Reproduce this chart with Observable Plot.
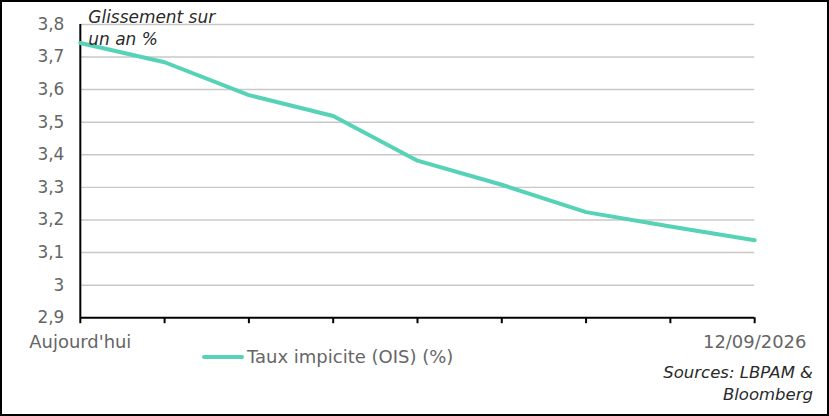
<!DOCTYPE html>
<html><head><meta charset="utf-8">
<script src="https://cdn.jsdelivr.net/npm/d3@7"></script>
<script src="https://cdn.jsdelivr.net/npm/@observablehq/plot@0.6"></script>
<style>
html,body{margin:0;padding:0;background:#fff;}
#wrap{position:relative;width:829px;height:416px;box-sizing:border-box;border:2px solid #000;overflow:hidden;font-family:"DejaVu Sans",sans-serif;}
#chart{position:absolute;left:-2px;top:-2px;}
.legend{position:absolute;left:200px;top:344px;font-size:18px;color:#666;display:flex;align-items:center;}
.legend .sw{display:inline-block;width:42px;height:4px;background:#56d2b7;border-radius:2px;margin-right:3px;}
.src{position:absolute;right:14px;top:360px;font-size:16.5px;font-style:italic;color:#2a2a2a;text-align:right;line-height:22px;}
</style></head>
<body>
<div id="wrap"><div id="chart"></div>
<div class="legend"><span class="sw"></span><span>Taux impicite (OIS) (%)</span></div>
<div class="src">Sources: LBPAM &amp;<br>Bloomberg</div>
</div>
<script>
const steps = [0,1,2,3,4,5,6,7,8];
const values = [3.743, 3.684, 3.583, 3.519, 3.382, 3.308, 3.224, 3.18, 3.138];
const xTickLabels = ["Aujourd'hui","","","","","","","","12/09/2026"];
const yTicks = [2.9,3.0,3.1,3.2,3.3,3.4,3.5,3.6,3.7,3.8];
const seriesName = "Taux impicite (OIS) (%)";
const yTitle = ["Glissement sur","un an %"];

const data = steps.map((s,i)=>({x:s,y:values[i]}));
const fmt = d => String(+d.toFixed(1)).replace(".", ",");

const plot = Plot.plot({
  width: 829, height: 416,
  marginLeft: 80, marginRight: 73, marginTop: 24, marginBottom: 98,
  style: {fontFamily: '"DejaVu Sans", sans-serif', background: "transparent"},
  x: {domain: [0, 8], axis: null},
  y: {domain: [2.9, 3.8], axis: null},
  marks: [
    Plot.gridY(yTicks.filter(d=>d>2.95), {stroke: "#c8c8c8", strokeOpacity: 1, strokeWidth: 1.5}),
    Plot.axisY(yTicks, {label: null, tickSize: 0, tickPadding: 16, tickFormat: fmt, fontSize: 17, fill: "#666", }),
    Plot.axisX(steps, {label: null, tickSize: 6, tickPadding: 12, tickFormat: (d,i)=>xTickLabels[i], fontSize: 18, fill: "#666", stroke: "#000", strokeWidth: 2}),
    Plot.ruleY([2.9], {stroke: "#000", strokeWidth: 2}),
    Plot.ruleX([0], {stroke: "#000", strokeWidth: 2}),
    Plot.line(data, {x: "x", y: "y", stroke: "#56d2b7", strokeWidth: 4, strokeLinejoin: "round"}),
    Plot.text([yTitle.join("\n")], {frameAnchor: "top-left", dx: 8, dy: -17, fontSize: 17, fontStyle: "italic", fill: "#2a2a2a", lineHeight: 1.3})
  ]
});
document.getElementById("chart").appendChild(plot);
</script>
</body></html>
